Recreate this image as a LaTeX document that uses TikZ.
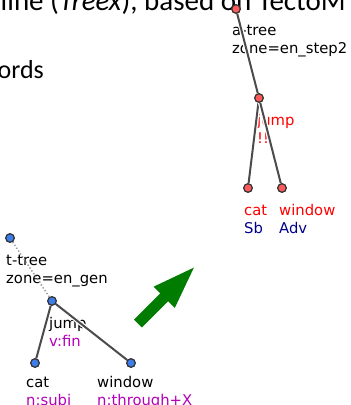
\documentclass[tikz,border=0pt]{standalone}
\usepackage{fontspec}
\setmainfont{Carlito}
\newfontfamily\labfont{DejaVu Sans}
\definecolor{edgegray}{RGB}{75,75,75}
\definecolor{anode}{RGB}{250,90,90}
\definecolor{tnode}{RGB}{60,125,235}
\definecolor{funcol}{RGB}{0,0,140}
\definecolor{fmtcol}{RGB}{180,0,185}
\definecolor{arrowgreen}{RGB}{0,125,0}
\begin{document}
\begin{tikzpicture}[x=1pt,y=-1pt,
  treenode/.style={circle,draw=black!80,line width=1.1pt,minimum size=8.5pt,inner sep=0pt},
  anodestyle/.style={treenode,fill=anode},
  tnodestyle/.style={treenode,fill=tnode},
  lab/.style={inner sep=0pt,anchor=base west,font=\labfont\fontsize{14.8pt}{18.5pt}\selectfont},
  heading/.style={inner sep=0pt,font=\fontsize{29pt}{34pt}\selectfont},
  bullet/.style={inner sep=0pt,font=\fontsize{26pt}{30pt}\selectfont},
  treeedge/.style={draw=edgegray,line width=2pt,preaction={draw=white,line width=4.5pt}},
  hiddenedge/.style={draw=black!40,line width=1.4pt,dotted}]
\useasboundingbox (0,0) rectangle (351,405);
\clip (0,0) rectangle (351,405);

% slide text behind the trees
\node[heading,anchor=base west] (head) at (-51,10) {pipeline (\textit{Treex}), based on TectoMT};
\node[bullet,anchor=base east] (words) at (44,78) {words};

% a-tree labels
\node[lab] (aroottxt) at (232,35) {a-tree};
\node[lab] (azonetxt) at (232,53) {zone=en\_step2};
\node[lab,text=red] (ajump) at (257,125) {jump};
\node[lab,text=red] (aexcl) at (257,143) {!!};
\node[lab,text=red] (acat) at (244,215) {cat};
\node[lab,text=funcol] (asb) at (244,233) {Sb};
\node[lab,text=red] (awin) at (279,215) {window};
\node[lab,text=funcol] (aadv) at (279,233) {Adv};

% t-tree labels
\node[lab] (troottxt) at (6,265) {t-tree};
\node[lab] (tzonetxt) at (6,283) {zone=en\_gen};
\node[lab] (tjump) at (49,328) {jump};
\node[lab,text=fmtcol] (tvfin) at (49,346) {v:fin};
\node[lab] (tcat) at (26,387) {cat};
\node[lab,text=fmtcol] (tsubj) at (26,405) {n:subj};
\node[lab] (twin) at (97,387) {window};
\node[lab,text=fmtcol] (tthr) at (97,405) {n:through+X};

% tree nodes (positions)
\node[anodestyle] (ar) at (236,9) {};
\node[anodestyle] (aj) at (259,98) {};
\node[anodestyle] (ac) at (248,188) {};
\node[anodestyle] (aw) at (282,188) {};
\node[tnodestyle] (tr) at (10,238) {};
\node[tnodestyle] (tj) at (52,301) {};
\node[tnodestyle] (tc) at (35,363) {};
\node[tnodestyle] (tw) at (131,363) {};

% edges, with a white casing over the labels
\path[treeedge] (ar) -- (aj);
\path[treeedge] (aj) -- (ac);
\path[treeedge] (aj) -- (aw);
\path[hiddenedge] (tr) -- (tj);
\path[treeedge] (tj) -- (tc);
\path[treeedge] (tj) -- (tw);

% nodes drawn again on top of the edges
\node[anodestyle] at (ar) {};
\node[anodestyle] at (aj) {};
\node[anodestyle] at (ac) {};
\node[anodestyle] at (aw) {};
\node[tnodestyle] at (tr) {};
\node[tnodestyle] at (tj) {};
\node[tnodestyle] at (tc) {};
\node[tnodestyle] at (tw) {};

% block arrow from the t-tree towards the a-tree
\fill[arrowgreen] (134.1,319.6) -- (160.3,293.4) -- (153.6,286.7) -- (193.9,267.6)
  -- (174.8,307.9) -- (168.1,301.2) -- (141.9,327.4) -- cycle;
\end{tikzpicture}
\end{document}
